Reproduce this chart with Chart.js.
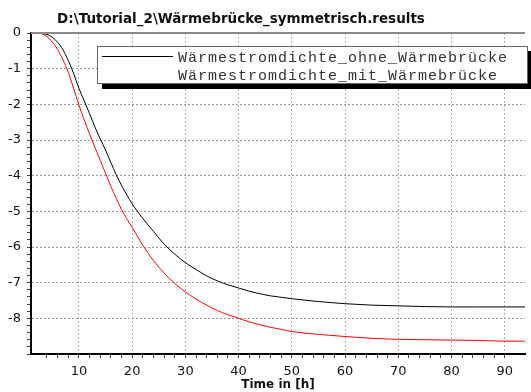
<!DOCTYPE html>
<html>
<head>
<meta charset="utf-8">
<script src="https://cdn.jsdelivr.net/npm/chart.js@4/dist/chart.umd.min.js"></script>
<style>
  body { margin: 0; background: #fff; }
</style>
</head>
<body>
<canvas id="myChart" width="531" height="392"></canvas>
<script>
// DEBUT DONNEES
let zeit = [1, 2, 3, 4, 5, 6, 7, 8, 9, 10, 11, 12, 13, 14, 15, 16, 17, 18, 19, 20,
            22, 24, 26, 28, 30, 32, 34, 36, 38, 40, 42, 44, 46, 48, 50,
            55, 60, 65, 70, 75, 80, 85, 90, 95];
let ohneWaermebruecke = [0, 0, -0.01, -0.04, -0.12, -0.26, -0.47, -0.77, -1.13, -1.55, -1.9, -2.26, -2.63, -2.97, -3.28, -3.63, -3.97, -4.27, -4.54, -4.79,
            -5.2, -5.56, -5.92, -6.2, -6.44, -6.63, -6.81, -6.95, -7.06, -7.15, -7.24, -7.31, -7.37, -7.41, -7.45,
            -7.53, -7.59, -7.63, -7.65, -7.67, -7.68, -7.68, -7.68, -7.68];
let mitWaermebruecke = [0, 0, -0.02, -0.1, -0.25, -0.46, -0.75, -1.1, -1.55, -2.02, -2.44, -2.83, -3.2, -3.57, -3.93, -4.3, -4.63, -4.95, -5.21, -5.45,
            -5.95, -6.38, -6.73, -7.02, -7.26, -7.46, -7.63, -7.78, -7.9, -8.0, -8.1, -8.18, -8.25, -8.31, -8.37,
            -8.45, -8.51, -8.56, -8.59, -8.6, -8.61, -8.62, -8.64, -8.64];
let labels = ['Wärmestromdichte_ohne_Wärmebrücke', 'Wärmestromdichte_mit_Wärmebrücke'];
let colors = ['#000000', '#ff0000'];
let titre = 'D:\\Tutorial_2\\Wärmebrücke_symmetrisch.results';
let titreX = 'Time in [h]';
// FIN DONNEES

function toPoints(ys) {
    return zeit.map(function(t, i){ return {x: t, y: ys[i]}; });
}

// titre, bordure haute et legende encadree
const decor = {
    id: 'decor',
    afterDatasetsDraw(chart) {
        const ctx = chart.ctx;
        const a = chart.chartArea;
        ctx.save();
        ctx.strokeStyle = '#8a8a8a';
        ctx.lineWidth = 2;
        ctx.beginPath();
        ctx.moveTo(a.left, a.top);
        ctx.lineTo(a.right, a.top);
        ctx.stroke();

        // legende
        ctx.fillStyle = '#000';
        ctx.fillRect(102, 84, 429, 5);
        ctx.fillRect(528, 51, 3, 38);
        ctx.fillStyle = '#fff';
        ctx.fillRect(97, 46, 431, 38);
        ctx.strokeStyle = '#666';
        ctx.lineWidth = 1;
        ctx.strokeRect(97.5, 46.5, 430, 37);

        ctx.strokeStyle = chart.data.datasets[0].borderColor;
        ctx.beginPath();
        ctx.moveTo(102, 56.5);
        ctx.lineTo(173, 56.5);
        ctx.stroke();

        ctx.fillStyle = '#333';
        ctx.font = '15px "Liberation Mono"';
        ctx.letterSpacing = '1px';
        ctx.textBaseline = 'middle';
        ctx.textAlign = 'left';
        chart.data.datasets.forEach(function(ds, i){
            ctx.fillText(ds.label, 178, 58 + i * 18);
        });
        ctx.letterSpacing = '0px';

        // titre
        ctx.fillStyle = '#111';
        ctx.font = 'bold 13.5px "DejaVu Sans"';
        ctx.textAlign = 'center';
        ctx.fillText(titre, 241, 19);
        ctx.restore();
    }
};

let myChart = document.getElementById('myChart').getContext('2d');

let chart1 = new Chart(myChart, {
    type: 'line',
    data: {
        datasets: [{
            label: labels[0],
            data: toPoints(ohneWaermebruecke),
            borderColor: colors[0],
            borderWidth: 1,
            pointRadius: 0,
            cubicInterpolationMode: 'monotone'
        }, {
            label: labels[1],
            data: toPoints(mitWaermebruecke),
            borderColor: colors[1],
            borderWidth: 1,
            pointRadius: 0,
            cubicInterpolationMode: 'monotone'
        }]
    },
    options: {
        responsive: false,
        animation: false,
        layout: { padding: { top: 33, left: 0, right: 0, bottom: 0 } },
        plugins: {
            legend: { display: false },
            tooltip: { enabled: false }
        },
        scales: {
            x: {
                type: 'linear',
                min: 1,
                max: 93.8,
                afterFit: function(scale){ scale.height = 38; },
                border: { color: '#000', width: 2, dash: [2, 2] },
                grid: {
                    color: function(c){ return c.tick && c.tick.value % 10 === 0 ? '#b0b0b0' : 'transparent'; },
                    tickColor: function(c){ return c.tick && c.tick.value % 2 === 0 ? '#444' : 'transparent'; },
                    tickLength: 4,
                    tickBorderDash: []
                },
                ticks: {
                    stepSize: 2,
                    autoSkip: false,
                    maxRotation: 0,
                    padding: 6,
                    color: '#111',
                    font: { family: 'DejaVu Sans', size: 13 },
                    callback: function(v){ return v % 10 === 0 ? String(v) : ''; }
                },
                title: {
                    display: true,
                    text: titreX,
                    color: '#111',
                    padding: { top: 2, bottom: 0 },
                    font: { family: 'DejaVu Sans', size: 12, weight: 'bold' }
                }
            },
            y: {
                min: -9,
                max: 0,
                afterFit: function(scale){ scale.width = 31; },
                border: { color: '#000', width: 2, dash: [2, 2] },
                grid: {
                    color: function(c){
                        if (!c.tick) return 'transparent';
                        let v = c.tick.value;
                        return Math.abs(v - Math.round(v)) < 1e-6 && v > -9 && v < 0 ? '#999' : 'transparent';
                    },
                    tickColor: '#444',
                    tickLength: 4,
                    tickBorderDash: []
                },
                ticks: {
                    stepSize: 0.2,
                    autoSkip: false,
                    padding: 6,
                    color: '#111',
                    font: { family: 'DejaVu Sans', size: 13 },
                    callback: function(v){
                        if (Math.abs(v - Math.round(v)) > 1e-6 || Math.round(v) === -9) return '';
                        return String(Math.round(v));
                    }
                }
            }
        }
    },
    plugins: [decor]
});
</script>
</body>
</html>
